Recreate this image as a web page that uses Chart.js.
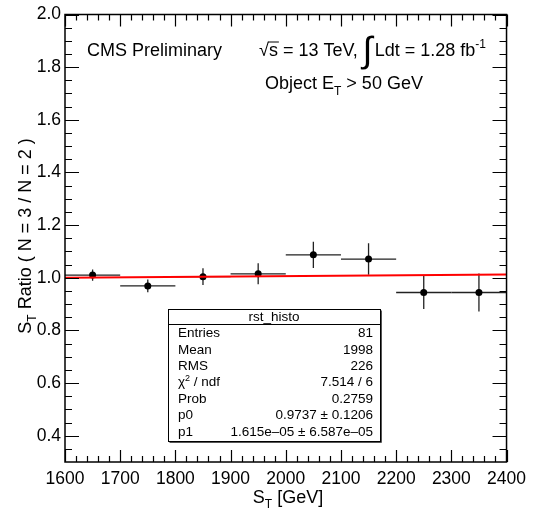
<!DOCTYPE html>
<html>
<head>
<meta charset="utf-8">
<script src="https://cdn.jsdelivr.net/npm/chart.js@4.4.1/dist/chart.umd.min.js"></script>
<style>
  html, body { margin: 0; padding: 0; background: #fff; }
  canvas { display: block; }
</style>
</head>
<body>
<canvas id="c" width="533" height="517"></canvas>
<script>
// ── data ──
const binCenters = [1650, 1750, 1850, 1950, 2050, 2150, 2250, 2350];
const binHalfWidth = [50, 50, 50, 50, 50, 50, 50, 50];
const ratio    = [1.010, 0.969, 1.004, 1.015, 1.087, 1.071, 0.944, 0.944];
const ratioErr = [0.021, 0.024, 0.032, 0.040, 0.050, 0.060, 0.063, 0.072];

// linear fit (p0 + p1*x) evaluated at the ends of the range
const fitX = [1600, 2400];
const fitY = [0.9995, 1.0125];

const xTicks = [1600, 1700, 1800, 1900, 2000, 2100, 2200, 2300, 2400];
const yTicks = [0.4, 0.6, 0.8, 1.0, 1.2, 1.4, 1.6, 1.8, 2.0];

const statLabels = ['Entries', 'Mean', 'RMS', 'χ2 / ndf', 'Prob', 'p0', 'p1'];
const statValues = ['81', '1998', '226', '7.514 / 6', '0.2759',
                    '0.9737 ± 0.1206', '1.615e–05 ± 6.587e–05'];

const FONT = "'Liberation Sans', Arial, Helvetica, sans-serif";

// draws runs of text with different sizes / vertical shifts, left to right
function drawRich(ctx, parts, x, y, align) {
  let total = 0;
  parts.forEach(p => {
    ctx.font = p.size + 'px ' + FONT;
    p.w = ctx.measureText(p.t).width;
    total += p.w + (p.gap || 0);
  });
  let cx = align === 'center' ? x - total / 2 : align === 'right' ? x - total : x;
  ctx.textAlign = 'left';
  parts.forEach(p => {
    ctx.font = p.size + 'px ' + FONT;
    ctx.fillText(p.t, cx, y + (p.dy || 0));
    if (p.over) {
      ctx.beginPath();
      ctx.lineWidth = 1;
      ctx.moveTo(cx - 1, y + (p.dy || 0) - p.over);
      ctx.lineTo(cx + p.w + 1, y + (p.dy || 0) - p.over);
      ctx.stroke();
    }
    cx += p.w + (p.gap || 0);
  });
}

// error bars under the markers
const errorBars = {
  id: 'errorBars',
  beforeDatasetsDraw(chart) {
    const { ctx, scales: { x, y } } = chart;
    ctx.save();
    ctx.strokeStyle = '#222';
    ctx.lineWidth = 1.3;
    binCenters.forEach((c, i) => {
      const px = x.getPixelForValue(c);
      const py = y.getPixelForValue(ratio[i]);
      ctx.beginPath();
      ctx.moveTo(x.getPixelForValue(c - binHalfWidth[i]), py);
      ctx.lineTo(x.getPixelForValue(c + binHalfWidth[i]), py);
      ctx.moveTo(px, y.getPixelForValue(ratio[i] + ratioErr[i]));
      ctx.lineTo(px, y.getPixelForValue(ratio[i] - ratioErr[i]));
      ctx.stroke();
    });
    ctx.restore();
  }
};

// ROOT style frame, inward ticks, labels and stats box
const decor = {
  id: 'decor',
  afterDraw(chart) {
    const { ctx, chartArea: a, scales: { x, y } } = chart;
    ctx.save();
    ctx.strokeStyle = '#000';
    ctx.lineWidth = 1.2;
    ctx.beginPath();
    // x ticks, every 20 with major every 100
    for (let v = 1600; v <= 2400; v += 20) {
      const px = Math.round(x.getPixelForValue(v)) + 0.5;
      const len = v % 100 === 0 ? 12 : 6;
      ctx.moveTo(px, a.bottom); ctx.lineTo(px, a.bottom - len);
      ctx.moveTo(px, a.top);    ctx.lineTo(px, a.top + len);
    }
    // y ticks, every 0.05 with major every 0.2
    for (let k = 7; k <= 40; k++) {
      const v = k * 0.05;
      const py = Math.round(y.getPixelForValue(v)) + 0.5;
      const len = k % 4 === 0 ? 14 : 7;
      ctx.moveTo(a.left, py);  ctx.lineTo(a.left + len, py);
      ctx.moveTo(a.right, py); ctx.lineTo(a.right - len, py);
    }
    ctx.stroke();
    ctx.lineWidth = 1.5;
    ctx.strokeRect(a.left, a.top, a.right - a.left, a.bottom - a.top);

    ctx.fillStyle = '#000';
    ctx.textBaseline = 'alphabetic';

    // axis titles
    drawRich(ctx, [{ t: 'S', size: 18 }, { t: 'T', size: 12, dy: 5 }, { t: ' [GeV]', size: 18 }],
             288, 503, 'center');
    ctx.save();
    ctx.translate(31, 236);
    ctx.rotate(-Math.PI / 2);
    drawRich(ctx, [{ t: 'S', size: 18 }, { t: 'T', size: 12, dy: 5 },
                   { t: ' Ratio ( N = 3 / N = 2 )', size: 18 }], 0, 0, 'center');
    ctx.restore();

    // header texts
    drawRich(ctx, [{ t: 'CMS Preliminary', size: 18 }], 87, 56, 'left');
    drawRich(ctx, [{ t: '√', size: 18 }, { t: 's', size: 18, over: 14 },
                   { t: ' = 13 TeV, ', size: 18 }, { t: '∫', size: 36, dy: 6, gap: 2 },
                   { t: 'Ldt = 1.28 fb', size: 18 }, { t: '-1', size: 12, dy: -8 }],
             259, 56, 'left');
    drawRich(ctx, [{ t: 'Object E', size: 18 }, { t: 'T', size: 12, dy: 6 },
                   { t: ' > 50 GeV', size: 18 }], 265, 89, 'left');

    // stats box
    const bx = 168, by = 309, bw = 212, bh = 132;
    ctx.fillStyle = '#fff';
    ctx.fillRect(bx, by, bw, bh);
    ctx.strokeStyle = '#000';
    ctx.lineWidth = 1;
    ctx.strokeRect(bx + 0.5, by + 0.5, bw, bh);
    ctx.beginPath();
    ctx.moveTo(bx, by + 15.5); ctx.lineTo(bx + bw, by + 15.5);
    ctx.stroke();
    ctx.strokeStyle = '#555';
    ctx.beginPath();
    ctx.moveTo(bx + 1.5, by + bh + 1.5); ctx.lineTo(bx + bw + 1.5, by + bh + 1.5);
    ctx.lineTo(bx + bw + 1.5, by + 1.5);
    ctx.stroke();
    ctx.fillStyle = '#000';
    ctx.textBaseline = 'middle';
    drawRich(ctx, [{ t: 'rst_histo', size: 13.5 }], bx + bw / 2, by + 8.5, 'center');
    statLabels.forEach((lab, i) => {
      const ry = 333.5 + i * 16.4;
      if (lab.startsWith('χ2')) {
        drawRich(ctx, [{ t: 'χ', size: 13.5 }, { t: '2', size: 9, dy: -4 },
                       { t: ' / ndf', size: 13.5 }], bx + 10, ry, 'left');
      } else {
        drawRich(ctx, [{ t: lab, size: 13.5 }], bx + 10, ry, 'left');
      }
      drawRich(ctx, [{ t: statValues[i], size: 13.5 }], bx + bw - 7, ry, 'right');
    });
    ctx.restore();
  }
};

new Chart(document.getElementById('c'), {
  type: 'scatter',
  data: {
    datasets: [
      {
        type: 'line',
        data: fitX.map((v, i) => ({ x: v, y: fitY[i] })),
        borderColor: '#ff0000',
        borderWidth: 2,
        pointRadius: 0,
        fill: false,
      },
      {
        data: binCenters.map((v, i) => ({ x: v, y: ratio[i] })),
        backgroundColor: '#000',
        borderColor: '#000',
        pointRadius: 3.5,
        pointBorderWidth: 0,
      }
    ]
  },
  options: {
    responsive: false,
    animation: false,
    layout: { padding: { top: 8, right: 22, left: 0, bottom: 0 } },
    plugins: { legend: { display: false }, tooltip: { enabled: false } },
    scales: {
      x: {
        type: 'linear', min: 1600, max: 2400,
        grid: { display: false, drawTicks: false },
        border: { display: false },
        afterBuildTicks: s => { s.ticks = xTicks.map(v => ({ value: v })); },
        afterFit: s => { s.height = 55; },
        ticks: {
          autoSkip: false, maxRotation: 0, padding: 7, color: '#000',
          font: { family: FONT, size: 17.5 },
          callback: v => String(v),
        }
      },
      y: {
        min: 0.3, max: 2.0,
        grid: { display: false, drawTicks: false },
        border: { display: false },
        afterBuildTicks: s => { s.ticks = yTicks.map(v => ({ value: v })); },
        afterFit: s => { s.width = 65; },
        ticks: {
          padding: 4, color: '#000',
          font: { family: FONT, size: 17.5 },
          callback: v => v.toFixed(1),
        }
      }
    }
  },
  plugins: [errorBars, decor]
});
</script>
</body>
</html>
